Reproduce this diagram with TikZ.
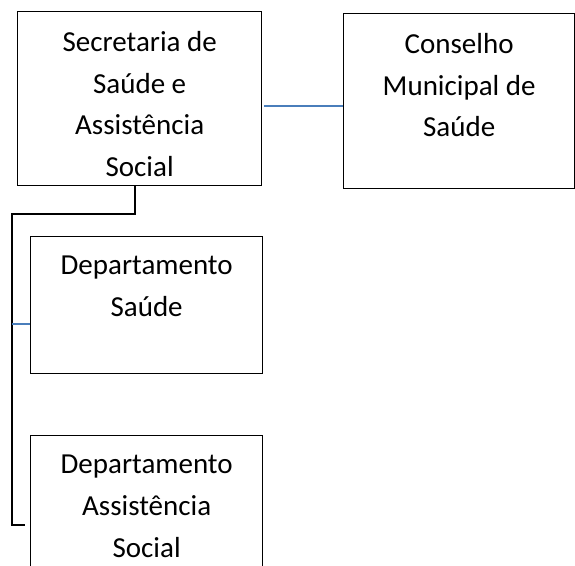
\documentclass[tikz,border=0pt]{standalone}
\usepackage{fontspec}
\setmainfont{Carlito}
\begin{document}
\begin{tikzpicture}[x=1pt,y=-1pt,
  box/.style={draw=black,line width=1.3pt,inner sep=0pt,anchor=north west},
  label/.style={anchor=north,align=center,inner sep=0pt,font=\fontsize{29}{41.8}\selectfont},
  tree/.style={draw=black,line width=1.9pt},
  link/.style={draw={rgb,255:red,74;green,126;blue,187},line width=1.3pt}]
\useasboundingbox (0,0) rectangle (575,565);
\clip (0,0) rectangle (575,565);
\node[box,minimum width=244pt,minimum height=174pt] (sec) at (17,11) {};
\node[box,minimum width=231pt,minimum height=175pt] (con) at (343,13) {};
\node[box,minimum width=232pt,minimum height=137pt] (dsa) at (30,236) {};
\node[box,minimum width=232pt,minimum height=160pt] (das) at (30,435) {};
\node[label] (sect) at ([yshift=-20pt]sec.north) {Secretaria de\\Saúde e\\Assistência\\Social};
\node[label] (cont) at ([yshift=-20pt]con.north) {Conselho\\Municipal de\\Saúde};
\node[label] (dsat) at ([yshift=-20pt]dsa.north) {Departamento\\Saúde};
\node[label] (dast) at ([yshift=-20pt]das.north) {Departamento\\Assistência\\Social};
\coordinate (secb) at (135,185);
\coordinate (end) at (25,525);
\coordinate (ls) at (264,106);
\draw[tree] (secb) -- (135,214) -- (12,214) -- (12,525) -- (end);
\draw[link] (ls) -- (ls -| con.west);
\draw[link] (12,324) -- (12,324 -| dsa.west);
\end{tikzpicture}
\end{document}
